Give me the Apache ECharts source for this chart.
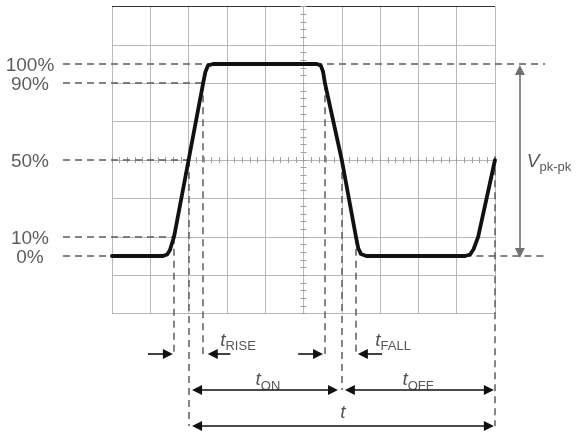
<!DOCTYPE html>
<html>
<head>
<meta charset="utf-8">
<script src="https://cdn.jsdelivr.net/npm/echarts@6/dist/echarts.min.js"></script>
<style>
html, body { margin: 0; padding: 0; background: #fff; }
#main { width: 577px; height: 432px; }
</style>
</head>
<body>
<div id="main"></div>
<script>
// levels in percent of Vpk-pk
var levels = [100, 90, 50, 10, 0];
var levelLabels = ['100%', '90%', '50%', '10%', '0%'];

// waveform: x in screen divisions, y in percent
var waveX = [0, 1.33, 1.44, 1.51, 1.62, 2.0, 2.38, 2.44, 2.51, 2.64, 5.35, 5.45, 5.51, 5.56, 6.0, 6.37, 6.43, 6.50, 6.64, 9.22, 9.35, 9.44, 9.56, 10.0];
var waveY = [0, 0, 0.8, 3, 10, 50, 90, 96, 99.3, 100, 100, 99.3, 96, 90, 50, 10, 4, 1, 0, 0, 0.8, 3.5, 10, 50];

// edge crossings (divisions)
var rise10 = 1.62, rise50 = 2.0, rise90 = 2.38;
var fall90 = 5.56, fall50 = 6.0, fall10 = 6.37;
var periodEnd = 10.0;

// graticule
var divX = [0, 1, 2, 3, 4, 5, 6, 7, 8, 9, 10];
var divY = [-30, -10, 10, 30, 50, 70, 90, 110, 130];

// pixel mapping of the plot (px per division / per percent)
var PXX = 38.3, PXY = 1.92, X0 = 112, Y0 = 256, W = 577, H = 432;

function seg(x1, y1, x2, y2) {
    return [{coord: [x1, y1]}, {coord: [x2, y2]}];
}
// arrow with tip(s) on the given points; symbol is centred so pull it back half its size
function arrow(x1, y1, x2, y2, both) {
    var dxp = (x2 - x1) * PXX, dyp = (y2 - y1) * PXY;
    var len = Math.sqrt(dxp * dxp + dyp * dyp);
    var ux = dxp / len, uy = dyp / len, h = 5;
    var ex = x2 - ux * h / PXX, ey = y2 - uy * h / PXY;
    var sx = both ? x1 + ux * h / PXX : x1, sy = both ? y1 + uy * h / PXY : y1;
    return [{coord: [sx, sy], symbol: both ? 'triangle' : 'none'}, {coord: [ex, ey], symbol: 'triangle'}];
}

var gridLines = [];
divX.forEach(function (x) { gridLines.push(seg(x, -30, x, 130)); });
divY.forEach(function (y) {
    if (y !== 130) gridLines.push(seg(0, y, 10, y));
});
var topLine = seg(0, 130, 10, 130);
topLine[0].lineStyle = {color: '#333', width: 1.2, type: 'solid'};
gridLines.push(topLine);

var ticks = [];
var tx = 3 / PXX, ty = 3 / PXY;
for (var k = 0; k <= 40; k++) {
    var yy = -30 + k * 4;
    ticks.push(seg(5 - tx, yy, 5 + tx, yy));
}
for (var m = 0; m <= 50; m++) {
    var xx = m * 0.2;
    ticks.push(seg(xx, 50 - ty, xx, 50 + ty));
}

var leftX = (63 - X0) / PXX, rightX = (545 - X0) / PXX;
var row1 = -51, row2 = -69.8, row3 = -88.5;
var guides = [
    seg(leftX, 100, rightX, 100),
    seg(leftX, 90, rise90, 90),
    seg(leftX, 50, rise50, 50),
    seg(leftX, 10, rise10, 10),
    seg(leftX, 0, 0, 0),
    seg(9.2, 0, rightX, 0),
    seg(rise10, 10, rise10, row1),
    seg(rise50, 50, rise50, row3),
    seg(rise90, 90, rise90, row1),
    seg(fall90, 90, fall90, row1),
    seg(fall50, 50, fall50, row2),
    seg(fall10, 10, fall10, row1),
    seg(periodEnd, 52, periodEnd, row3)
];

var arrows = [
    arrow(0.94, row1, 1.59, row1),
    arrow(3.09, row1, 2.50, row1),
    arrow(4.86, row1, 5.51, row1),
    arrow(7.05, row1, 6.42, row1),
    arrow(2.09, row2, 5.90, row2, true),
    arrow(6.08, row2, 9.97, row2, true),
    arrow(2.09, row3, 9.97, row3, true)
];

var vArrow = [arrow(10.65, -1, 10.65, 99.5, true)];

var txt = '#2a2a2a';
var rich = {
    t: {fontFamily: 'Liberation Sans', fontStyle: 'italic', fontSize: 19, color: txt, lineHeight: 19, verticalAlign: 'top'},
    s: {fontFamily: 'Liberation Sans', fontSize: 13, color: txt, lineHeight: 13, padding: [9, 0, 0, 0], verticalAlign: 'top'}
};
function sub(x, y, main, small, align) {
    return {
        value: [x, y],
        label: {formatter: '{t|' + main + '}{s|' + small + '}', align: align || 'center'}
    };
}

var levelItems = levels.map(function (v, i) {
    return {value: [(30 - X0) / PXX, v], label: {formatter: levelLabels[i]}};
});

var chart = echarts.init(document.getElementById('main'));
var option = {
    animation: false,
    backgroundColor: '#fff',
    grid: {left: 0, right: 0, top: 0, bottom: 0},
    xAxis: {type: 'value', min: -X0 / PXX, max: (W - X0) / PXX, show: false},
    yAxis: {type: 'value', min: -(H - Y0) / PXY, max: Y0 / PXY, show: false},
    series: [
        {
            type: 'line', data: [], z: 1,
            markLine: {
                silent: true, symbol: 'none', label: {show: false},
                lineStyle: {color: '#b8b8b8', width: 1, type: 'solid'},
                data: gridLines
            }
        },
        {
            type: 'line', data: [], z: 2,
            markLine: {
                silent: true, symbol: 'none', label: {show: false},
                lineStyle: {color: '#a0a0a0', width: 1, type: 'solid'},
                data: ticks
            }
        },
        {
            type: 'line', data: [], z: 3,
            markLine: {
                silent: true, symbol: 'none', label: {show: false},
                lineStyle: {color: '#5c5c5c', width: 1.5, type: [7, 5]},
                data: guides
            }
        },
        {
            type: 'line', z: 5, symbol: 'none', silent: true, clip: false,
            lineStyle: {color: '#111', width: 3.8, join: 'round', cap: 'round'},
            data: waveX.map(function (x, i) { return [x, waveY[i]]; })
        },
        {
            type: 'line', data: [], z: 4,
            markLine: {
                silent: true, symbol: 'none', symbolSize: 10, label: {show: false},
                lineStyle: {color: '#111', width: 1.6, type: 'solid'},
                itemStyle: {color: '#111'},
                data: arrows
            }
        },
        {
            type: 'line', data: [], z: 4,
            markLine: {
                silent: true, symbol: 'none', symbolSize: 10, label: {show: false},
                lineStyle: {color: '#707070', width: 1.6, type: 'solid'},
                data: vArrow
            }
        },
        {
            type: 'scatter', z: 6, symbolSize: 1, silent: true,
            itemStyle: {color: 'rgba(0,0,0,0)'},
            label: {show: true, position: 'inside', offset: [0, 1.5], fontFamily: 'Liberation Sans', fontSize: 19, color: '#333'},
            data: levelItems
        },
        {
            type: 'scatter', z: 6, symbolSize: 1, silent: true,
            itemStyle: {color: 'rgba(0,0,0,0)'},
            label: {show: true, position: 'inside', rich: rich},
            data: [
                sub(3.29, -44, 't', 'RISE'),
                sub(7.34, -44, 't', 'FALL'),
                sub(4.07, -64.6, 't', 'ON'),
                sub(7.99, -64.6, 't', 'OFF'),
                {value: [6.03, -81.8], label: {formatter: '{t|t}'}},
                sub(10.83, 49, 'V', 'pk-pk', 'left')
            ]
        }
    ]
};
chart.setOption(option);
</script>
</body>
</html>
